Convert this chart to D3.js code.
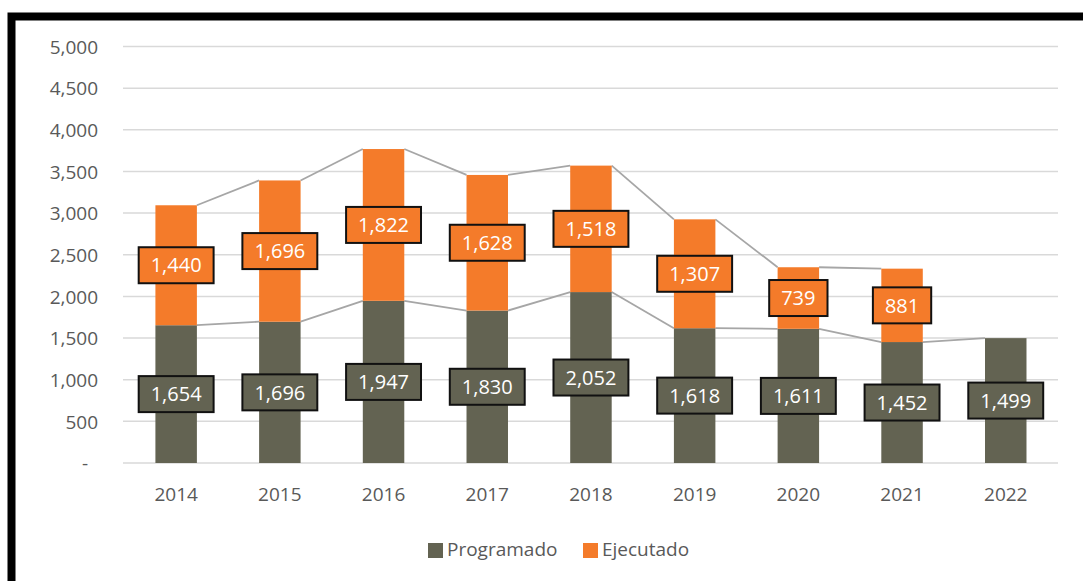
<!DOCTYPE html>
<html>
<head>
<meta charset="utf-8">
<script src="https://cdn.jsdelivr.net/npm/d3@7"></script>
<style>
  html, body { margin: 0; padding: 0; background: #fff; }
  svg { display: block; }
</style>
</head>
<body>
<svg id="chart" width="1083" height="581"></svg>
<script>
const years = ["2014","2015","2016","2017","2018","2019","2020","2021","2022"];
const programado = [1654, 1696, 1947, 1830, 2052, 1618, 1611, 1452, 1499];
const ejecutado  = [1440, 1696, 1822, 1628, 1518, 1307, 739, 881, null];
const yTicks = [0, 500, 1000, 1500, 2000, 2500, 3000, 3500, 4000, 4500, 5000];
const seriesNames = ["Programado", "Ejecutado"];
const seriesColors = ["#636352", "#f47b2a"];

const W = 1083, H = 581;
const svg = d3.select("#chart");
const font = "'Open Sans', 'Noto Sans', sans-serif";
const textColor = "#595959";

// frame
svg.append("path")
  .attr("d", `M11.5,${H} L11.5,16.5 L${W},16.5`)
  .attr("fill", "none").attr("stroke", "#000").attr("stroke-width", 8);

const x = d3.scaleBand().domain(years).range([124.3, 1057.6]).paddingInner(0.6).paddingOuter(0.3);
const y = d3.scaleLinear().domain([0, 5000]).range([463, 46.5]);

// gridlines
svg.append("g").selectAll("line").data(yTicks).join("line")
  .attr("x1", 123).attr("x2", 1058)
  .attr("y1", d => y(d)).attr("y2", d => y(d))
  .attr("stroke", "#d9d9d9").attr("stroke-width", 1.5);

// y axis
const yAxis = svg.append("g").attr("transform", "translate(98,0)")
  .call(d3.axisLeft(y).tickValues(yTicks).tickSize(0).tickPadding(0)
    .tickFormat(d => d === 0 ? "-" : d3.format(",")(d)));
yAxis.select(".domain").remove();
yAxis.selectAll("text")
  .attr("font-family", font).attr("font-size", 19).attr("fill", textColor)
  .attr("dy", "0.35em")
  .attr("x", d => d === 0 ? -10 : 0);

// x axis
const xAxis = svg.append("g").attr("transform", "translate(0,463)")
  .call(d3.axisBottom(x).tickSize(0).tickPadding(0));
xAxis.select(".domain").remove();
xAxis.selectAll("text")
  .attr("font-family", font).attr("font-size", 19).attr("fill", textColor)
  .attr("y", 38).attr("dy", 0);

// stacked data
const table = years.map((yr, i) => ({ year: yr, Programado: programado[i], Ejecutado: ejecutado[i] }));
const stack = d3.stack().keys(seriesNames).value((d, k) => d[k] == null ? 0 : d[k]);
const stacked = stack(table);

// series lines
const bw = x.bandwidth();
stacked.forEach((s, si) => {
  const segs = [];
  for (let i = 0; i < s.length - 1; i++) {
    const a = s[i].data[s.key], b = s[i + 1].data[s.key];
    if (a == null || b == null) continue;
    segs.push([[x(years[i]) + bw, y(s[i][1])], [x(years[i + 1]), y(s[i + 1][1])]]);
  }
  svg.append("g").selectAll("path").data(segs).join("path")
    .attr("d", d => d3.line()(d))
    .attr("fill", "none").attr("stroke", "#a6a6a6").attr("stroke-width", 1.8);
});

// bars
stacked.forEach((s, si) => {
  svg.append("g").selectAll("rect").data(s.filter(d => d.data[s.key] != null)).join("rect")
    .attr("x", d => x(d.data.year)).attr("width", bw)
    .attr("y", d => y(d[1])).attr("height", d => y(d[0]) - y(d[1]))
    .attr("fill", seriesColors[si]);
});

// labels
stacked.forEach((s, si) => {
  const g = svg.append("g");
  s.filter(d => d.data[s.key] != null).forEach(d => {
    const cx = x(d.data.year) + bw / 2;
    const cy = y((d[0] + d[1]) / 2);
    const lg = g.append("g");
    const rect = lg.append("rect").attr("fill", seriesColors[si])
      .attr("stroke", "#111").attr("stroke-width", 2);
    const t = lg.append("text")
      .attr("x", cx).attr("y", cy).attr("dy", "0.36em")
      .attr("text-anchor", "middle")
      .attr("font-family", font).attr("font-size", 20).attr("fill", "#fff")
      .text(d3.format(",")(d.data[s.key]));
    const tw = t.node().getComputedTextLength();
    const bwid = tw + 24, bh = 36;
    rect.attr("x", cx - bwid / 2).attr("y", cy - bh / 2).attr("width", bwid).attr("height", bh);
  });
});

// legend
const legendItems = [
  { name: "Programado", color: seriesColors[0], x: 428 },
  { name: "Ejecutado", color: seriesColors[1], x: 583 }
];
const lg = svg.append("g");
legendItems.forEach(it => {
  lg.append("rect").attr("x", it.x).attr("y", 543).attr("width", 15).attr("height", 15).attr("fill", it.color);
  lg.append("text").attr("x", it.x + 19).attr("y", 556)
    .attr("font-family", font).attr("font-size", 19).attr("fill", textColor)
    .text(it.name);
});
</script>
</body>
</html>
